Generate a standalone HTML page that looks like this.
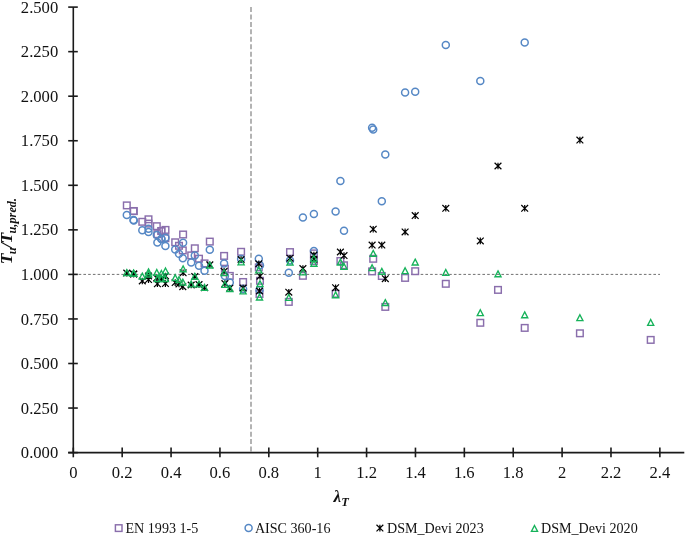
<!DOCTYPE html>
<html><head><meta charset="utf-8"><title>chart</title>
<style>
html,body{margin:0;padding:0;background:#fff;}
body{width:685px;height:536px;overflow:hidden;font-family:"Liberation Serif",serif;}
svg{display:block;will-change:transform;}
text{font-family:"Liberation Serif",serif;fill:#111;}
</style></head><body>
<svg width="685" height="536" viewBox="0 0 685 536">
<rect width="685" height="536" fill="#fff"/>
<line x1="251" y1="7" x2="251" y2="452.6" stroke="#9a9a9a" stroke-width="1.5" stroke-dasharray="5 2.45"/>
<line x1="73.9" y1="274.4" x2="660" y2="274.4" stroke="#707070" stroke-width="1" stroke-dasharray="2.6 2.15"/>
<g stroke="#1a1a1a" stroke-width="1.6" fill="none">
<line x1="73.3" y1="7.1" x2="73.3" y2="453.25"/>
<line x1="68.2" y1="452.6" x2="684.3" y2="452.6"/>
<line x1="68.2" y1="452.60" x2="77.8" y2="452.60"/>
<line x1="68.2" y1="408.05" x2="77.8" y2="408.05"/>
<line x1="68.2" y1="363.50" x2="77.8" y2="363.50"/>
<line x1="68.2" y1="318.95" x2="77.8" y2="318.95"/>
<line x1="68.2" y1="274.40" x2="77.8" y2="274.40"/>
<line x1="68.2" y1="229.85" x2="77.8" y2="229.85"/>
<line x1="68.2" y1="185.30" x2="77.8" y2="185.30"/>
<line x1="68.2" y1="140.75" x2="77.8" y2="140.75"/>
<line x1="68.2" y1="96.20" x2="77.8" y2="96.20"/>
<line x1="68.2" y1="51.65" x2="77.8" y2="51.65"/>
<line x1="68.2" y1="7.10" x2="77.8" y2="7.10"/>
<line x1="73.30" y1="447.6" x2="73.30" y2="457.3"/>
<line x1="122.18" y1="447.6" x2="122.18" y2="457.3"/>
<line x1="171.06" y1="447.6" x2="171.06" y2="457.3"/>
<line x1="219.94" y1="447.6" x2="219.94" y2="457.3"/>
<line x1="268.82" y1="447.6" x2="268.82" y2="457.3"/>
<line x1="317.70" y1="447.6" x2="317.70" y2="457.3"/>
<line x1="366.58" y1="447.6" x2="366.58" y2="457.3"/>
<line x1="415.46" y1="447.6" x2="415.46" y2="457.3"/>
<line x1="464.34" y1="447.6" x2="464.34" y2="457.3"/>
<line x1="513.22" y1="447.6" x2="513.22" y2="457.3"/>
<line x1="562.10" y1="447.6" x2="562.10" y2="457.3"/>
<line x1="610.98" y1="447.6" x2="610.98" y2="457.3"/>
<line x1="659.86" y1="447.6" x2="659.86" y2="457.3"/>
</g>
<g font-size="16.6px">
<text x="58.2" y="458.1" text-anchor="end">0.000</text>
<text x="58.2" y="413.6" text-anchor="end">0.250</text>
<text x="58.2" y="369.0" text-anchor="end">0.500</text>
<text x="58.2" y="324.5" text-anchor="end">0.750</text>
<text x="58.2" y="279.9" text-anchor="end">1.000</text>
<text x="58.2" y="235.4" text-anchor="end">1.250</text>
<text x="58.2" y="190.8" text-anchor="end">1.500</text>
<text x="58.2" y="146.3" text-anchor="end">1.750</text>
<text x="58.2" y="101.7" text-anchor="end">2.000</text>
<text x="58.2" y="57.2" text-anchor="end">2.250</text>
<text x="58.2" y="12.6" text-anchor="end">2.500</text>
<text x="73.3" y="478.3" text-anchor="middle">0</text>
<text x="122.2" y="478.3" text-anchor="middle">0.2</text>
<text x="171.1" y="478.3" text-anchor="middle">0.4</text>
<text x="219.9" y="478.3" text-anchor="middle">0.6</text>
<text x="268.8" y="478.3" text-anchor="middle">0.8</text>
<text x="317.7" y="478.3" text-anchor="middle">1</text>
<text x="366.6" y="478.3" text-anchor="middle">1.2</text>
<text x="415.5" y="478.3" text-anchor="middle">1.4</text>
<text x="464.3" y="478.3" text-anchor="middle">1.6</text>
<text x="513.2" y="478.3" text-anchor="middle">1.8</text>
<text x="562.1" y="478.3" text-anchor="middle">2</text>
<text x="611.0" y="478.3" text-anchor="middle">2.2</text>
<text x="659.9" y="478.3" text-anchor="middle">2.4</text>
</g>
<text x="333.6" y="501.7" font-size="17px" font-weight="bold" font-style="italic">λ<tspan font-size="12.4px" dx="0.2" dy="4">T</tspan></text>
<text transform="translate(12.2,264.3) rotate(-90)" font-size="17.6px" font-weight="bold" font-style="italic">T<tspan font-size="12.3px" dy="4.2" dx="-0.8">u</tspan><tspan dy="-4.2" dx="-0.3">/</tspan><tspan dx="-0.5">T</tspan><tspan font-size="12.3px" dy="4.2" dx="-0.8">u,pred.</tspan></text>
<g fill="none" stroke="#8A6EAC" stroke-width="1.45">
<rect x="123.50" y="202.10" width="6.6" height="6.6"/><rect x="130.20" y="207.70" width="6.6" height="6.6"/><rect x="130.50" y="207.80" width="6.6" height="6.6"/><rect x="139.00" y="218.50" width="6.6" height="6.6"/><rect x="145.20" y="216.00" width="6.6" height="6.6"/><rect x="145.20" y="220.30" width="6.6" height="6.6"/><rect x="153.50" y="222.90" width="6.6" height="6.6"/><rect x="154.10" y="230.90" width="6.6" height="6.6"/><rect x="158.10" y="227.70" width="6.6" height="6.6"/><rect x="158.10" y="227.70" width="6.6" height="6.6"/><rect x="162.20" y="226.60" width="6.6" height="6.6"/><rect x="162.10" y="234.90" width="6.6" height="6.6"/><rect x="171.90" y="239.00" width="6.6" height="6.6"/><rect x="175.70" y="242.50" width="6.6" height="6.6"/><rect x="179.80" y="231.20" width="6.6" height="6.6"/><rect x="179.50" y="247.10" width="6.6" height="6.6"/><rect x="187.90" y="252.10" width="6.6" height="6.6"/><rect x="191.50" y="245.00" width="6.6" height="6.6"/><rect x="195.70" y="255.40" width="6.6" height="6.6"/><rect x="201.20" y="260.10" width="6.6" height="6.6"/><rect x="206.50" y="238.30" width="6.6" height="6.6"/><rect x="220.80" y="252.60" width="6.6" height="6.6"/><rect x="221.60" y="265.40" width="6.6" height="6.6"/><rect x="226.50" y="272.60" width="6.6" height="6.6"/><rect x="237.80" y="248.50" width="6.6" height="6.6"/><rect x="239.80" y="278.70" width="6.6" height="6.6"/><rect x="255.50" y="264.10" width="6.6" height="6.6"/><rect x="256.70" y="277.50" width="6.6" height="6.6"/><rect x="256.20" y="290.70" width="6.6" height="6.6"/><rect x="286.70" y="248.80" width="6.6" height="6.6"/><rect x="285.50" y="298.60" width="6.6" height="6.6"/><rect x="299.60" y="272.50" width="6.6" height="6.6"/><rect x="310.60" y="250.10" width="6.6" height="6.6"/><rect x="310.60" y="257.70" width="6.6" height="6.6"/><rect x="332.30" y="290.50" width="6.6" height="6.6"/><rect x="337.10" y="257.70" width="6.6" height="6.6"/><rect x="340.70" y="262.00" width="6.6" height="6.6"/><rect x="368.80" y="268.10" width="6.6" height="6.6"/><rect x="369.90" y="255.50" width="6.6" height="6.6"/><rect x="378.50" y="272.70" width="6.6" height="6.6"/><rect x="382.00" y="303.60" width="6.6" height="6.6"/><rect x="401.80" y="274.60" width="6.6" height="6.6"/><rect x="411.90" y="267.90" width="6.6" height="6.6"/><rect x="442.50" y="280.50" width="6.6" height="6.6"/><rect x="477.00" y="319.50" width="6.6" height="6.6"/><rect x="494.70" y="286.60" width="6.6" height="6.6"/><rect x="521.40" y="324.60" width="6.6" height="6.6"/><rect x="576.60" y="330.00" width="6.6" height="6.6"/><rect x="647.40" y="336.60" width="6.6" height="6.6"/>
</g>
<g fill="none" stroke="#5688C5" stroke-width="1.5">
<circle cx="126.8" cy="214.9" r="3.5"/><circle cx="133.5" cy="220.0" r="3.5"/><circle cx="133.8" cy="220.5" r="3.5"/><circle cx="142.3" cy="230.2" r="3.5"/><circle cx="148.5" cy="228.7" r="3.5"/><circle cx="148.5" cy="232.0" r="3.5"/><circle cx="156.8" cy="235.1" r="3.5"/><circle cx="157.4" cy="242.4" r="3.5"/><circle cx="161.4" cy="238.9" r="3.5"/><circle cx="161.4" cy="238.9" r="3.5"/><circle cx="165.5" cy="237.7" r="3.5"/><circle cx="165.4" cy="245.9" r="3.5"/><circle cx="175.2" cy="249.6" r="3.5"/><circle cx="179.0" cy="253.8" r="3.5"/><circle cx="183.1" cy="242.8" r="3.5"/><circle cx="182.8" cy="258.2" r="3.5"/><circle cx="191.2" cy="262.6" r="3.5"/><circle cx="194.8" cy="255.4" r="3.5"/><circle cx="199.0" cy="265.7" r="3.5"/><circle cx="204.5" cy="270.8" r="3.5"/><circle cx="209.8" cy="249.8" r="3.5"/><circle cx="224.1" cy="263.6" r="3.5"/><circle cx="224.9" cy="275.9" r="3.5"/><circle cx="229.8" cy="282.6" r="3.5"/><circle cx="241.1" cy="259.1" r="3.5"/><circle cx="243.1" cy="289.0" r="3.5"/><circle cx="258.8" cy="258.7" r="3.5"/><circle cx="260.0" cy="265.2" r="3.5"/><circle cx="259.5" cy="290.0" r="3.5"/><circle cx="290.0" cy="260.6" r="3.5"/><circle cx="288.8" cy="272.8" r="3.5"/><circle cx="302.9" cy="217.5" r="3.5"/><circle cx="313.9" cy="214.0" r="3.5"/><circle cx="313.9" cy="251.0" r="3.5"/><circle cx="335.6" cy="211.4" r="3.5"/><circle cx="340.4" cy="180.9" r="3.5"/><circle cx="344.0" cy="230.7" r="3.5"/><circle cx="372.1" cy="127.7" r="3.5"/><circle cx="373.2" cy="129.4" r="3.5"/><circle cx="381.8" cy="201.3" r="3.5"/><circle cx="385.3" cy="154.4" r="3.5"/><circle cx="405.1" cy="92.5" r="3.5"/><circle cx="415.2" cy="91.8" r="3.5"/><circle cx="445.8" cy="45.1" r="3.5"/><circle cx="480.3" cy="81.1" r="3.5"/><circle cx="524.7" cy="42.4" r="3.5"/>
</g>
<g fill="none" stroke="#000" stroke-width="1.2">
<path d="M123.4 269.8L130.2 276.4M130.2 269.8L123.4 276.4M126.8 269.8V276.4"/><path d="M130.1 270.7L136.9 277.3M136.9 270.7L130.1 277.3M133.5 270.7V277.3"/><path d="M130.4 270.7L137.2 277.3M137.2 270.7L130.4 277.3M133.8 270.7V277.3"/><path d="M138.9 277.7L145.7 284.3M145.7 277.7L138.9 284.3M142.3 277.7V284.3"/><path d="M145.1 272.7L151.9 279.3M151.9 272.7L145.1 279.3M148.5 272.7V279.3"/><path d="M145.1 276.3L151.9 282.9M151.9 276.3L145.1 282.9M148.5 276.3V282.9"/><path d="M153.4 274.7L160.2 281.3M160.2 274.7L153.4 281.3M156.8 274.7V281.3"/><path d="M154.0 280.5L160.8 287.1M160.8 280.5L154.0 287.1M157.4 280.5V287.1"/><path d="M158.0 274.9L164.8 281.5M164.8 274.9L158.0 281.5M161.4 274.9V281.5"/><path d="M158.0 275.1L164.8 281.7M164.8 275.1L158.0 281.7M161.4 275.1V281.7"/><path d="M162.1 272.7L168.9 279.3M168.9 272.7L162.1 279.3M165.5 272.7V279.3"/><path d="M162.0 280.3L168.8 286.9M168.8 280.3L162.0 286.9M165.4 280.3V286.9"/><path d="M171.8 279.3L178.6 285.9M178.6 279.3L171.8 285.9M175.2 279.3V285.9"/><path d="M175.6 280.7L182.4 287.3M182.4 280.7L175.6 287.3M179.0 280.7V287.3"/><path d="M179.7 269.5L186.5 276.1M186.5 269.5L179.7 276.1M183.1 269.5V276.1"/><path d="M179.4 283.4L186.2 290.0M186.2 283.4L179.4 290.0M182.8 283.4V290.0"/><path d="M187.8 281.7L194.6 288.3M194.6 281.7L187.8 288.3M191.2 281.7V288.3"/><path d="M191.4 273.2L198.2 279.8M198.2 273.2L191.4 279.8M194.8 273.2V279.8"/><path d="M195.6 281.2L202.4 287.8M202.4 281.2L195.6 287.8M199.0 281.2V287.8"/><path d="M201.1 284.4L207.9 291.0M207.9 284.4L201.1 291.0M204.5 284.4V291.0"/><path d="M206.4 261.5L213.2 268.1M213.2 261.5L206.4 268.1M209.8 261.5V268.1"/><path d="M220.7 268.0L227.5 274.6M227.5 268.0L220.7 274.6M224.1 268.0V274.6"/><path d="M221.5 280.3L228.3 286.9M228.3 280.3L221.5 286.9M224.9 280.3V286.9"/><path d="M226.4 284.9L233.2 291.5M233.2 284.9L226.4 291.5M229.8 284.9V291.5"/><path d="M237.7 256.2L244.5 262.8M244.5 256.2L237.7 262.8M241.1 256.2V262.8"/><path d="M239.7 284.7L246.5 291.3M246.5 284.7L239.7 291.3M243.1 284.7V291.3"/><path d="M255.4 260.5L262.2 267.1M262.2 260.5L255.4 267.1M258.8 260.5V267.1"/><path d="M256.6 272.9L263.4 279.5M263.4 272.9L256.6 279.5M260.0 272.9V279.5"/><path d="M256.1 287.7L262.9 294.3M262.9 287.7L256.1 294.3M259.5 287.7V294.3"/><path d="M286.6 254.9L293.4 261.5M293.4 254.9L286.6 261.5M290.0 254.9V261.5"/><path d="M285.4 288.9L292.2 295.5M292.2 288.9L285.4 295.5M288.8 288.9V295.5"/><path d="M299.5 265.2L306.3 271.8M306.3 265.2L299.5 271.8M302.9 265.2V271.8"/><path d="M310.5 251.7L317.3 258.3M317.3 251.7L310.5 258.3M313.9 251.7V258.3"/><path d="M310.5 255.9L317.3 262.5M317.3 255.9L310.5 262.5M313.9 255.9V262.5"/><path d="M332.2 284.4L339.0 291.0M339.0 284.4L332.2 291.0M335.6 284.4V291.0"/><path d="M337.0 248.7L343.8 255.3M343.8 248.7L337.0 255.3M340.4 248.7V255.3"/><path d="M340.6 252.3L347.4 258.9M347.4 252.3L340.6 258.9M344.0 252.3V258.9"/><path d="M368.7 241.8L375.5 248.4M375.5 241.8L368.7 248.4M372.1 241.8V248.4"/><path d="M369.8 225.9L376.6 232.5M376.6 225.9L369.8 232.5M373.2 225.9V232.5"/><path d="M378.4 241.8L385.2 248.4M385.2 241.8L378.4 248.4M381.8 241.8V248.4"/><path d="M381.9 275.4L388.7 282.0M388.7 275.4L381.9 282.0M385.3 275.4V282.0"/><path d="M401.7 228.6L408.5 235.2M408.5 228.6L401.7 235.2M405.1 228.6V235.2"/><path d="M411.8 212.3L418.6 218.9M418.6 212.3L411.8 218.9M415.2 212.3V218.9"/><path d="M442.4 205.0L449.2 211.6M449.2 205.0L442.4 211.6M445.8 205.0V211.6"/><path d="M476.9 237.6L483.7 244.2M483.7 237.6L476.9 244.2M480.3 237.6V244.2"/><path d="M494.6 162.7L501.4 169.3M501.4 162.7L494.6 169.3M498.0 162.7V169.3"/><path d="M521.3 205.0L528.1 211.6M528.1 205.0L521.3 211.6M524.7 205.0V211.6"/><path d="M576.5 136.8L583.3 143.4M583.3 136.8L576.5 143.4M579.9 136.8V143.4"/>
</g>
<g fill="none" stroke="#16B25A" stroke-width="1.35" stroke-linejoin="miter">
<path d="M126.80 269.65L129.85 275.50H123.75Z"/><path d="M133.50 270.25L136.55 276.10H130.45Z"/><path d="M133.80 270.25L136.85 276.10H130.75Z"/><path d="M142.30 273.15L145.35 279.00H139.25Z"/><path d="M148.50 268.85L151.55 274.70H145.45Z"/><path d="M148.50 271.15L151.55 277.00H145.45Z"/><path d="M156.80 269.55L159.85 275.40H153.75Z"/><path d="M157.40 275.75L160.45 281.60H154.35Z"/><path d="M161.40 270.45L164.45 276.30H158.35Z"/><path d="M161.40 275.65L164.45 281.50H158.35Z"/><path d="M165.50 267.95L168.55 273.80H162.45Z"/><path d="M165.40 275.65L168.45 281.50H162.35Z"/><path d="M175.20 274.75L178.25 280.60H172.15Z"/><path d="M179.00 276.65L182.05 282.50H175.95Z"/><path d="M183.10 265.85L186.15 271.70H180.05Z"/><path d="M182.80 279.15L185.85 285.00H179.75Z"/><path d="M191.20 281.05L194.25 286.90H188.15Z"/><path d="M194.80 273.35L197.85 279.20H191.75Z"/><path d="M199.00 281.05L202.05 286.90H195.95Z"/><path d="M204.50 284.45L207.55 290.30H201.45Z"/><path d="M209.80 262.15L212.85 268.00H206.75Z"/><path d="M224.10 269.75L227.15 275.60H221.05Z"/><path d="M224.90 281.55L227.95 287.40H221.85Z"/><path d="M229.80 285.65L232.85 291.50H226.75Z"/><path d="M241.10 258.95L244.15 264.80H238.05Z"/><path d="M243.10 288.05L246.15 293.90H240.05Z"/><path d="M258.80 266.95L261.85 272.80H255.75Z"/><path d="M260.00 280.75L263.05 286.60H256.95Z"/><path d="M259.50 294.15L262.55 300.00H256.45Z"/><path d="M290.00 259.25L293.05 265.10H286.95Z"/><path d="M288.80 294.45L291.85 300.30H285.75Z"/><path d="M302.90 268.95L305.95 274.80H299.85Z"/><path d="M313.90 255.45L316.95 261.30H310.85Z"/><path d="M313.90 260.35L316.95 266.20H310.85Z"/><path d="M335.60 291.85L338.65 297.70H332.55Z"/><path d="M340.40 259.15L343.45 265.00H337.35Z"/><path d="M344.00 263.45L347.05 269.30H340.95Z"/><path d="M372.10 264.75L375.15 270.60H369.05Z"/><path d="M373.20 250.35L376.25 256.20H370.15Z"/><path d="M381.80 268.35L384.85 274.20H378.75Z"/><path d="M385.30 299.65L388.35 305.50H382.25Z"/><path d="M405.10 267.75L408.15 273.60H402.05Z"/><path d="M415.20 259.15L418.25 265.00H412.15Z"/><path d="M445.80 269.55L448.85 275.40H442.75Z"/><path d="M480.30 309.75L483.35 315.60H477.25Z"/><path d="M498.00 270.85L501.05 276.70H494.95Z"/><path d="M524.70 311.85L527.75 317.70H521.65Z"/><path d="M579.90 314.75L582.95 320.60H576.85Z"/><path d="M650.70 319.55L653.75 325.40H647.65Z"/>
</g>
<g fill="none" stroke="#8A6EAC" stroke-width="1.45"><rect x="115.40" y="524.80" width="6.6" height="6.6"/></g>
<g fill="none" stroke="#5688C5" stroke-width="1.5"><circle cx="248.6" cy="528.1" r="3.5"/></g>
<g fill="none" stroke="#000" stroke-width="1.2"><path d="M376.5 524.8L383.3 531.4M383.3 524.8L376.5 531.4M379.9 524.8V531.4"/></g>
<g fill="none" stroke="#16B25A" stroke-width="1.35"><path d="M534.50 525.55L537.55 531.40H531.45Z"/></g>
<g font-size="14.1px">
<text x="125.5" y="532.6">EN 1993 1-5</text>
<text x="254.9" y="532.6">AISC 360-16</text>
<text x="387.0" y="532.6">DSM_Devi 2023</text>
<text x="541.0" y="532.6">DSM_Devi 2020</text>
</g>
</svg>
</body></html>
